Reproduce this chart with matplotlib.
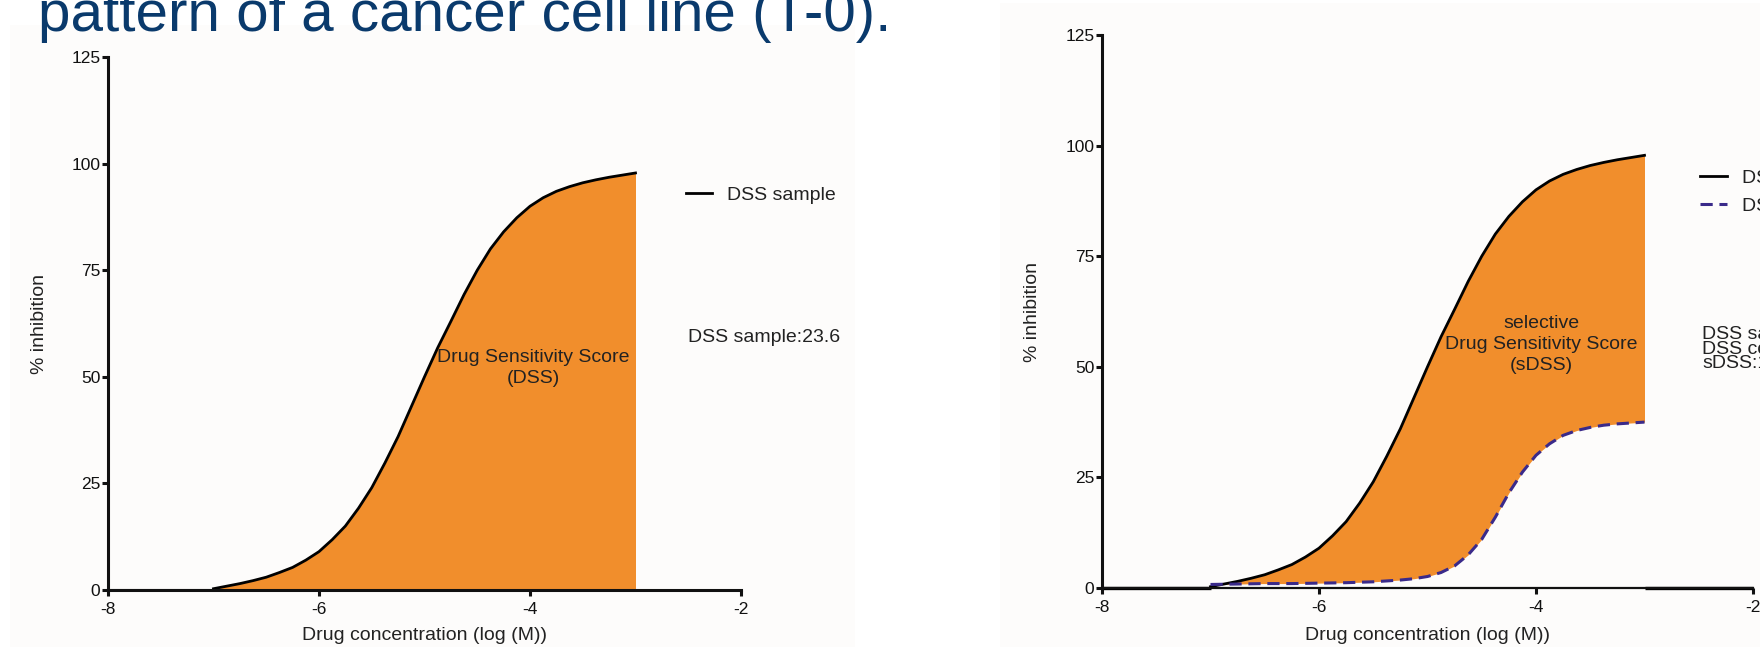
import matplotlib.pyplot as plt
from matplotlib.patches import Rectangle

plt.rcParams["font.family"] = ["Liberation Sans", "DejaVu Sans"]
plt.rcParams["axes.unicode_minus"] = False

W, H = 1760, 647

# values
log_conc = [-7.0, -6.875, -6.75, -6.625, -6.5, -6.375, -6.25, -6.125, -6.0,
            -5.875, -5.75, -5.625, -5.5, -5.375, -5.25, -5.125, -5.0,
            -4.875, -4.75, -4.625, -4.5, -4.375, -4.25, -4.125, -4.0,
            -3.875, -3.75, -3.625, -3.5, -3.375, -3.25, -3.125, -3.0]
dss_sample = [0.3, 0.9, 1.5, 2.2, 3.0, 4.1, 5.3, 7.0, 9.0,
              11.8, 15.0, 19.2, 24.0, 29.8, 36.0, 43.0, 50.0,
              56.8, 63.0, 69.3, 75.0, 80.0, 84.0, 87.3, 90.0,
              92.0, 93.5, 94.6, 95.5, 96.2, 96.8, 97.3, 97.8]
dss_control = [0.8, 0.85, 0.9, 0.95, 1.0, 1.0, 1.0, 1.05, 1.1,
               1.15, 1.2, 1.3, 1.4, 1.6, 1.8, 2.1, 2.6,
               3.5, 5.0, 7.5, 11.0, 16.0, 21.5, 26.2, 30.0,
               32.6, 34.5, 35.6, 36.3, 36.8, 37.1, 37.3, 37.5]
flat_x = [-8.0, -7.0]
flat_y = [0.0, 0.0]
tail_x = [-3.0, -2.0]
tail_y = [0.0, 0.0]

x_ticks = [-8, -6, -4, -2]
y_ticks = [0, 25, 50, 75, 100, 125]

ORANGE = "#f18e2c"
NAVY = "#3a2a8a"
TITLE_BLUE = "#0a3a6c"
TXT = "#222222"
FS = 14


def px(x0, y0, x1, y1):
    # pixel box (top-left origin) -> figure fraction rect
    return [x0 / W, 1 - y1 / H, (x1 - x0) / W, (y1 - y0) / H]


def style_axis(ax):
    ax.set_xlim(-8, -2)
    ax.set_ylim(0, 125)
    ax.set_xticks(x_ticks)
    ax.set_yticks(y_ticks)
    for s in ["top", "right"]:
        ax.spines[s].set_visible(False)
    for s in ["left", "bottom"]:
        ax.spines[s].set_linewidth(2.2)
        ax.spines[s].set_color("#111111")
    ax.tick_params(direction="out", length=4, width=2.2, labelsize=12.5,
                   colors="#111111")
    ax.tick_params(axis="x", pad=4.5)
    ax.tick_params(axis="y", pad=1.5)
    ax.patch.set_alpha(0)
    ax.text(0.5, -0.085, "Drug concentration (log (M))", transform=ax.transAxes,
            ha="center", va="center", fontsize=FS, color=TXT)


fig = plt.figure(figsize=(W / 100, H / 100), dpi=100)
fig.patch.set_facecolor("white")

# faint pasted-image backgrounds of the slide
fig.add_artist(Rectangle((10 / W, 0), 845 / W, 1 - 25 / H, transform=fig.transFigure,
                         facecolor="#fdfcfb", edgecolor="none", zorder=0))
fig.add_artist(Rectangle((1000 / W, 0), 760 / W, 1 - 3 / H, transform=fig.transFigure,
                         facecolor="#fdfcfb", edgecolor="none", zorder=0))

fig.text(38 / W, 1 - 31 / H, "pattern of a cancer cell line (T-0).",
         fontsize=42, color=TITLE_BLUE, va="baseline", ha="left")

# left panel: DSS
ax1 = fig.add_axes(px(108, 57, 741, 590))
style_axis(ax1)
ax1.fill_between(log_conc, 0, dss_sample, color=ORANGE, lw=0)
ax1.plot(flat_x, flat_y, color="black", lw=2.2, solid_capstyle="butt")
(l_sample,) = ax1.plot(log_conc, dss_sample, color="black", lw=2.0, label="DSS sample")
ax1.text(-0.108, 0.5, "% inhibition", transform=ax1.transAxes, rotation=90,
         ha="center", va="center", fontsize=FS, color=TXT)
ax1.text(-3.97, 52.0, "Drug Sensitivity Score\n(DSS)", ha="center", va="center",
         fontsize=FS, color=TXT, linespacing=1.3)
ax1.legend(handles=[l_sample], loc="center left",
           bbox_to_anchor=(686 / W, 1 - 195 / H), bbox_transform=fig.transFigure,
           frameon=False, fontsize=FS, handlelength=1.35, handletextpad=0.75,
           borderpad=0, borderaxespad=0, labelcolor=TXT)
fig.text(688 / W, 1 - 338 / H, "DSS sample:23.6", ha="left", va="center",
         fontsize=FS, color=TXT)

# right panel: selective DSS
ax2 = fig.add_axes(px(1102, 35, 1753, 588))
style_axis(ax2)
ax2.spines["bottom"].set_linewidth(1.6)
ax2.fill_between(log_conc, dss_control, dss_sample, color=ORANGE, lw=0)
ax2.plot(flat_x, flat_y, color="black", lw=2.4, solid_capstyle="butt", clip_on=False)
ax2.plot(tail_x, tail_y, color="black", lw=2.4, solid_capstyle="butt", clip_on=False)
(r_sample,) = ax2.plot(log_conc, dss_sample, color="black", lw=2.0, label="DSS sample")
(r_control,) = ax2.plot(log_conc, dss_control, color=NAVY, lw=2.2,
                        dashes=(4, 2.2), label="DSS control")
ax2.text(-0.106, 0.5, "% inhibition", transform=ax2.transAxes, rotation=90,
         ha="center", va="center", fontsize=FS, color=TXT)
ax2.text(-3.95, 55.0, "selective\nDrug Sensitivity Score\n(sDSS)", ha="center",
         va="center", fontsize=FS, color=TXT, linespacing=1.3)
ax2.legend(handles=[r_sample, r_control], loc="center left",
           bbox_to_anchor=(1700 / W, 1 - 192 / H), bbox_transform=fig.transFigure,
           frameon=False, fontsize=FS, handlelength=1.4, handletextpad=0.75,
           labelspacing=0.55, borderpad=0, borderaxespad=0, labelcolor=TXT)
fig.text(1702 / W, 1 - 349 / H, "DSS sample:23.6\nDSS control:6.6\nsDSS:17.0",
         ha="left", va="center", fontsize=FS, color=TXT, linespacing=0.82)

fig.savefig("out.png", dpi=100)
